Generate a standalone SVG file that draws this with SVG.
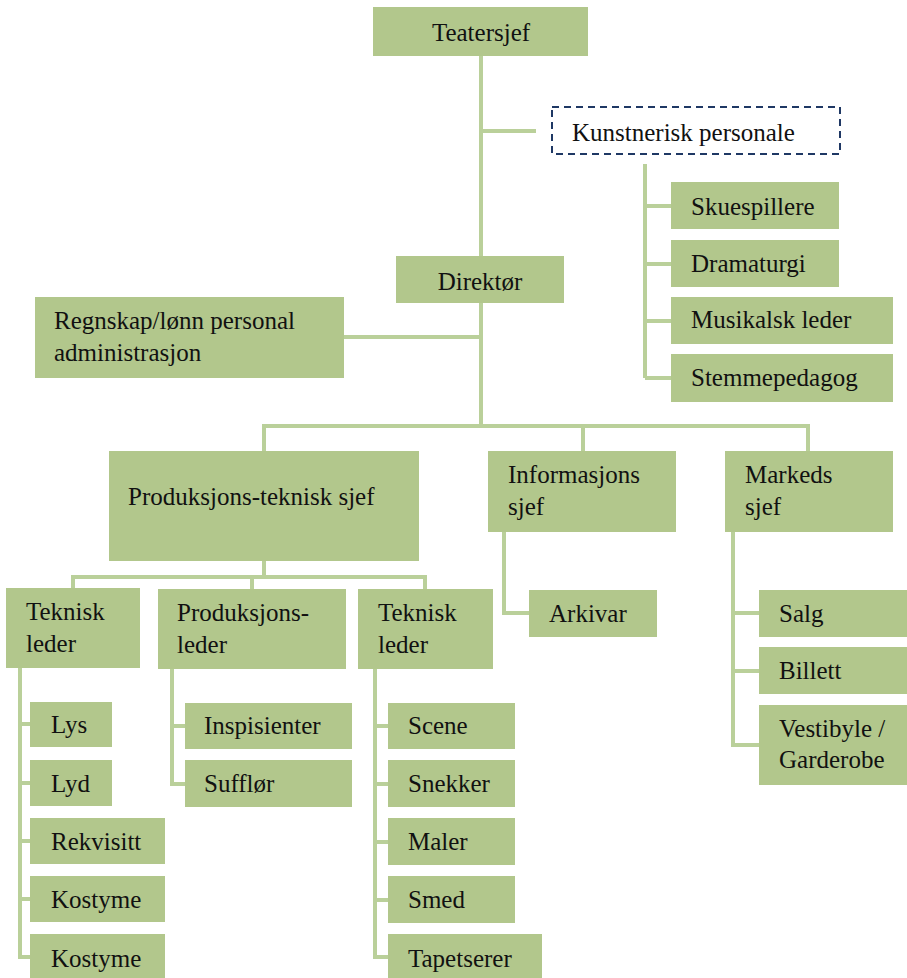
<svg xmlns="http://www.w3.org/2000/svg" width="907" height="978" viewBox="0 0 907 978">
<style>
.b{fill:#b2c78c}
.t{font-family:"Liberation Serif","DejaVu Serif",serif;font-size:25px;fill:#111}
.c{text-anchor:middle}
.l{fill:none;stroke:#bad09a;stroke-width:4;stroke-linejoin:miter}
</style>
<rect width="907" height="978" fill="#fff"/>
<g id="connectors">
<path class="l" d="M481,56V257M481,131H536M645,164V378M645,206H671M645,264H671M645,321H671M645,378H671"/>
<path class="l" d="M481,303V426M344,337H481M264,451V426H808V451M583,426V451"/>
<path class="l" d="M264,561V577M73,589V577H425V589M252,577V589"/>
<path class="l" d="M20,668V957H30M20,724H30M20,783H30M20,841H30M20,899H30"/>
<path class="l" d="M172,669V784H185M172,726H185"/>
<path class="l" d="M375,669V957H388M375,726H388M375,784H388M375,842H388M375,900H388"/>
<path class="l" d="M504,532V613H529"/>
<path class="l" d="M733,532V745H759M733,613H759M733,671H759"/>
</g>
<g id="teatersjef"><rect class="b" x="373" y="7" width="215" height="49"/><text class="t c" x="481" y="41">Teatersjef</text></g>
<g id="kunstnerisk"><rect x="552" y="107" width="288" height="47" fill="none" stroke="#1f3864" stroke-width="2" stroke-dasharray="7,5"/><text class="t" x="572" y="141">Kunstnerisk personale</text></g>
<g id="skuespillere"><rect class="b" x="671" y="182" width="168" height="47"/><text class="t" x="691" y="215">Skuespillere</text></g>
<g id="dramaturgi"><rect class="b" x="671" y="240" width="168" height="47"/><text class="t" x="691" y="272">Dramaturgi</text></g>
<g id="musikalsk"><rect class="b" x="671" y="297" width="222" height="47"/><text class="t" x="691" y="328">Musikalsk leder</text></g>
<g id="stemmepedagog"><rect class="b" x="671" y="354" width="222" height="48"/><text class="t" x="691" y="386">Stemmepedagog</text></g>
<g id="direktor"><rect class="b" x="396" y="256" width="168" height="47"/><text class="t c" x="480" y="290">Direktør</text></g>
<g id="regnskap"><rect class="b" x="35" y="297" width="309" height="81"/><text class="t" x="54" y="329">Regnskap/lønn personal</text><text class="t" x="54" y="361">administrasjon</text></g>
<g id="prodtekn"><rect class="b" x="109" y="451" width="310" height="110"/><text class="t" x="128" y="505">Produksjons-teknisk sjef</text></g>
<g id="informasjon"><rect class="b" x="488" y="451" width="188" height="81"/><text class="t" x="508" y="483">Informasjons</text><text class="t" x="508" y="515">sjef</text></g>
<g id="markeds"><rect class="b" x="725" y="451" width="168" height="81"/><text class="t" x="745" y="483">Markeds</text><text class="t" x="745" y="515">sjef</text></g>
<g id="arkivar"><rect class="b" x="529" y="590" width="128" height="47"/><text class="t" x="549" y="622">Arkivar</text></g>
<g id="salg"><rect class="b" x="759" y="590" width="148" height="47"/><text class="t" x="779" y="622">Salg</text></g>
<g id="billett"><rect class="b" x="759" y="647" width="148" height="47"/><text class="t" x="779" y="679">Billett</text></g>
<g id="vestibyle"><rect class="b" x="759" y="705" width="148" height="80"/><text class="t" x="779" y="737">Vestibyle /</text><text class="t" x="779" y="768">Garderobe</text></g>
<g id="teknisk1"><rect class="b" x="6" y="588" width="134" height="80"/><text class="t" x="26" y="620">Teknisk</text><text class="t" x="26" y="652">leder</text></g>
<g id="prodleder"><rect class="b" x="158" y="589" width="188" height="80"/><text class="t" x="177" y="621">Produksjons-</text><text class="t" x="177" y="653">leder</text></g>
<g id="teknisk2"><rect class="b" x="358" y="589" width="135" height="80"/><text class="t" x="378" y="621">Teknisk</text><text class="t" x="378" y="653">leder</text></g>
<g id="lys"><rect class="b" x="30" y="702" width="82" height="45"/><text class="t" x="51" y="733">Lys</text></g>
<g id="lyd"><rect class="b" x="30" y="760" width="82" height="46"/><text class="t" x="51" y="792">Lyd</text></g>
<g id="rekvisitt"><rect class="b" x="30" y="818" width="135" height="46"/><text class="t" x="51" y="850">Rekvisitt</text></g>
<g id="kostyme1"><rect class="b" x="30" y="876" width="135" height="46"/><text class="t" x="51" y="908">Kostyme</text></g>
<g id="kostyme2"><rect class="b" x="30" y="934" width="135" height="44"/><text class="t" x="51" y="967">Kostyme</text></g>
<g id="inspisienter"><rect class="b" x="185" y="703" width="167" height="46"/><text class="t" x="204" y="734">Inspisienter</text></g>
<g id="sufflor"><rect class="b" x="185" y="760" width="167" height="47"/><text class="t" x="204" y="792">Sufflør</text></g>
<g id="scene"><rect class="b" x="388" y="703" width="127" height="46"/><text class="t" x="408" y="734">Scene</text></g>
<g id="snekker"><rect class="b" x="388" y="760" width="127" height="47"/><text class="t" x="408" y="792">Snekker</text></g>
<g id="maler"><rect class="b" x="388" y="818" width="127" height="47"/><text class="t" x="408" y="850">Maler</text></g>
<g id="smed"><rect class="b" x="388" y="876" width="127" height="47"/><text class="t" x="408" y="908">Smed</text></g>
<g id="tapetserer"><rect class="b" x="388" y="934" width="154" height="44"/><text class="t" x="408" y="967">Tapetserer</text></g>
</svg>
